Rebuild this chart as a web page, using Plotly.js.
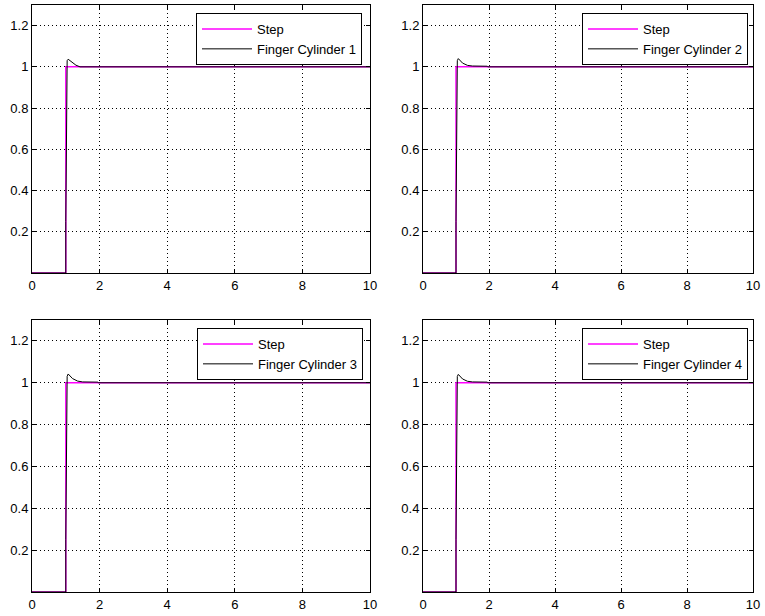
<!DOCTYPE html>
<html>
<head>
<meta charset="utf-8">
<script src="https://cdn.plot.ly/plotly-3.0.1.min.js"></script>
<style>html,body{margin:0;padding:0;background:#fff;}#chart{width:765px;height:616px;}</style>
</head>
<body>
<div id="chart"></div>
<script>
// ---- data ----
const stepT = [0, 1, 1, 10];
const stepY = [0, 0, 1, 1];

const cyl1T = [0, 1, 1, 1.02, 1.04, 1.07, 1.12, 1.2, 1.3, 1.42, 2, 10];
const cyl1Y = [0, 0, 0.25, 0.98, 1.03, 1.037, 1.03, 1.018, 1.008, 1.0, 1.0, 1.0];

const cyl2T = [0, 1, 1, 1.02, 1.04, 1.07, 1.12, 1.2, 1.35, 1.5, 1.95, 1.96, 10];
const cyl2Y = [0, 0, 0.25, 0.98, 1.03, 1.04, 1.032, 1.018, 1.007, 1.004, 1.003, 1.0, 1.0];

const cyl3T = [0, 1, 1, 1.02, 1.04, 1.07, 1.12, 1.2, 1.35, 1.5, 1.95, 1.96, 10];
const cyl3Y = [0, 0, 0.25, 0.98, 1.03, 1.042, 1.034, 1.02, 1.008, 1.004, 1.003, 1.0, 1.0];

const cyl4T = [0, 1, 1, 1.02, 1.04, 1.07, 1.12, 1.2, 1.35, 1.5, 1.95, 1.96, 10];
const cyl4Y = [0, 0, 0.25, 0.98, 1.03, 1.04, 1.032, 1.018, 1.007, 1.004, 1.003, 1.0, 1.0];

const seriesNames = ['Finger Cylinder 1', 'Finger Cylinder 2', 'Finger Cylinder 3', 'Finger Cylinder 4'];
const xTicks = [0, 2, 4, 6, 8, 10];
const yTicks = [0.2, 0.4, 0.6, 0.8, 1, 1.2];

// ---- layout helpers ----
const W = 765, H = 616;
const px = v => v / W;
const py = v => 1 - v / H;

const cyls = [[cyl1T, cyl1Y], [cyl2T, cyl2Y], [cyl3T, cyl3Y], [cyl4T, cyl4Y]];
const xDomains = [[32, 370], [423, 753], [32, 370], [423, 753]];
const yDomains = [[5, 273], [5, 273], [320, 592], [320, 592]];
const legendPos = [[362, 13], [748, 13], [363, 328], [748, 328]];

const tfont = {family: 'Liberation Sans, Arial, sans-serif', size: 13, color: '#000'};
const lfont = {family: 'Liberation Sans, Arial, sans-serif', size: 13, color: '#000'};
const traces = [];
const layout = {
  width: W, height: H,
  margin: {l: 0, r: 0, t: 0, b: 0},
  paper_bgcolor: '#fff', plot_bgcolor: '#fff',
  font: tfont,
  showlegend: true
};

for (let i = 0; i < 4; i++) {
  const n = i === 0 ? '' : String(i + 1);
  const lg = 'legend' + n;
  traces.push({
    x: stepT, y: stepY, type: 'scatter', mode: 'lines', name: 'Step',
    line: {color: '#ff00ff', width: 1.5},
    xaxis: 'x' + n, yaxis: 'y' + n, legend: lg
  });
  traces.push({
    x: cyls[i][0], y: cyls[i][1], type: 'scatter', mode: 'lines', name: seriesNames[i],
    line: {color: '#000', width: 1},
    xaxis: 'x' + n, yaxis: 'y' + n, legend: lg
  });
  layout['xaxis' + n] = {
    domain: [px(xDomains[i][0]), px(xDomains[i][1])],
    anchor: 'y' + n,
    range: [0, 10], tickvals: xTicks,
    showgrid: true, gridcolor: '#000', griddash: '1px,3px', gridwidth: 1,
    zeroline: false, showline: true, linecolor: '#000', linewidth: 1, mirror: 'ticks',
    ticks: 'inside', ticklen: 4, tickcolor: '#000',
    tickfont: tfont, fixedrange: true
  };
  layout['yaxis' + n] = {
    domain: [py(yDomains[i][1]), py(yDomains[i][0])],
    anchor: 'x' + n,
    range: [0, 1.3], tickvals: yTicks,
    showgrid: true, gridcolor: '#000', griddash: '1px,3px', gridwidth: 1,
    zeroline: false, showline: true, linecolor: '#000', linewidth: 1, mirror: 'ticks',
    ticks: 'inside', ticklen: 4, tickcolor: '#000',
    tickfont: tfont, fixedrange: true
  };
  layout[lg] = {
    x: px(legendPos[i][0]), y: py(legendPos[i][1]),
    xanchor: 'right', yanchor: 'top',
    bgcolor: '#fff', bordercolor: '#000', borderwidth: 1,
    font: lfont, tracegroupgap: 0, itemwidth: 50
  };
}

Plotly.newPlot('chart', traces, layout, {displayModeBar: false, staticPlot: true});
</script>
</body>
</html>
